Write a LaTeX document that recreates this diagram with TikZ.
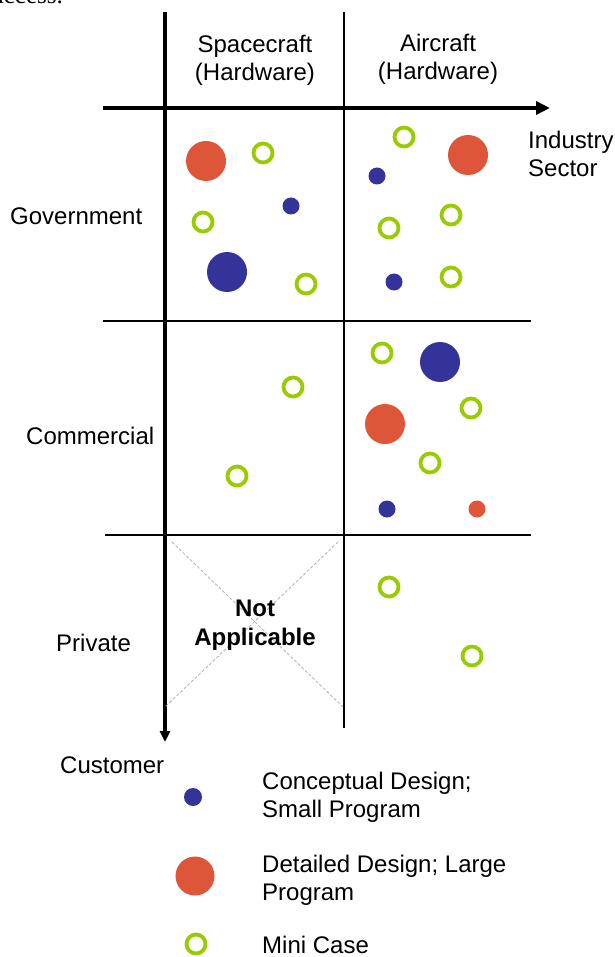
\documentclass[tikz,border=0pt]{standalone}
\usepackage{fontspec}
\setmainfont{Liberation Sans}
\newfontfamily\pagefont{Liberation Serif}
\usetikzlibrary{arrows.meta}

\definecolor{dotblue}{RGB}{51,51,153}
\definecolor{dotred}{RGB}{221,86,58}
\definecolor{ringgreen}{RGB}{153,204,0}

\tikzset{
  lbl/.style={font=\fontsize{24}{28}\selectfont, inner sep=0pt},
  conc/.style={circle, fill=dotblue, inner sep=0pt, minimum size=17pt},
  bigconc/.style={conc, minimum size=40pt},
  detl/.style={circle, fill=dotred, inner sep=0pt, minimum size=40pt},
  smalldetl/.style={detl, minimum size=17pt},
  mini/.style={circle, draw=ringgreen, line width=3.8pt, inner sep=0pt, minimum size=19pt},
  gridline/.style={line width=1.4pt},
}

\begin{document}
\begin{tikzpicture}[x=1pt, y=-1pt]
    \path[fill=white, use as bounding box] (0,0) rectangle (614,957);

    % cut-off text from the page above
    \node[font=\pagefont\fontsize{25}{30}\selectfont, anchor=base east, inner sep=0pt] (frag) at (63,4) {access.};

    % axes
    \coordinate (ctop) at (165,12);
    \coordinate (cend) at (165,742);
    \coordinate (sstart) at (103,108);
    \coordinate (send) at (550,108);
    \draw[line width=4pt, -{Triangle[length=11pt,width=10pt]}] (ctop) -- (cend);
    \draw[line width=3.8pt, -{Triangle[length=14pt,width=13pt]}] (sstart) -- (send);

    \draw[gridline] (344,12) -- (344,728);
    \draw[gridline] (103,321) -- (531,321);
    \draw[gridline] (105,535) -- (531,535);

    % not applicable cell
    \draw[gray!60, line width=0.8pt, dash pattern=on 3pt off 2pt] (172,542) -- (343,707);
    \draw[gray!60, line width=0.8pt, dash pattern=on 3pt off 2pt] (338,542) -- (165,707);
    \node[lbl, font=\bfseries\fontsize{24}{29}\selectfont, align=center, anchor=base] (na) at (255,645) {Not\\Applicable};

    % headings (base = last line)
    \node[lbl, align=center, anchor=base] (space) at (255,81) {Spacecraft\\(Hardware)};
    \node[lbl, align=center, anchor=base] (air) at (438,80) {Aircraft\\(Hardware)};
    \node[lbl, align=left, anchor=base west] (sector) at (528,177) {Industry\\Sector};
    \node[lbl, anchor=base west] (gov) at (10,225) {Government};
    \node[lbl, anchor=base west] (com) at (26,444) {Commercial};
    \node[lbl, anchor=base west] (priv) at (56,651) {Private};
    \node[lbl, anchor=base west] (cust) at (60,773) {Customer};

    % government
    \node[detl] (gs1) at (206,161) {};
    \node[mini] (gs2) at (263,153) {};
    \node[conc] (gs3) at (291,206) {};
    \node[mini] (gs4) at (203,222) {};
    \node[bigconc] (gs5) at (227,272) {};
    \node[mini] (gs6) at (306,284) {};
    \node[mini] (ga1) at (404,137) {};
    \node[detl] (ga2) at (468,155) {};
    \node[conc] (ga3) at (377,176) {};
    \node[mini] (ga4) at (451,215) {};
    \node[mini] (ga5) at (389,228) {};
    \node[conc] (ga6) at (394,282) {};
    \node[mini] (ga7) at (451,277) {};

    % commercial
    \node[mini] (cs1) at (293,387) {};
    \node[mini] (cs2) at (237,476) {};
    \node[mini] (ca1) at (382,353) {};
    \node[bigconc] (ca2) at (440,362) {};
    \node[mini] (ca3) at (471,408) {};
    \node[detl] (ca4) at (385,424) {};
    \node[mini] (ca5) at (430,463) {};
    \node[conc] (ca6) at (387,509) {};
    \node[smalldetl] (ca7) at (477,509) {};

    % private
    \node[mini] (pa1) at (389,587) {};
    \node[mini] (pa2) at (472,656) {};

    % legend
    \node[conc, minimum size=18pt] (kconc) at (193,797) {};
    \node[detl, minimum size=39pt] (kdetl) at (195,876) {};
    \node[mini] (kmini) at (196,944) {};
    \node[lbl, align=left, anchor=base west] (tconc) at (262,817) {Conceptual Design;\\Small Program};
    \node[lbl, align=left, anchor=base west] (tdetl) at (262,900) {Detailed Design; Large\\Program};
    \node[lbl, anchor=base west] (tmini) at (262,953) {Mini Case};
\end{tikzpicture}
\end{document}
